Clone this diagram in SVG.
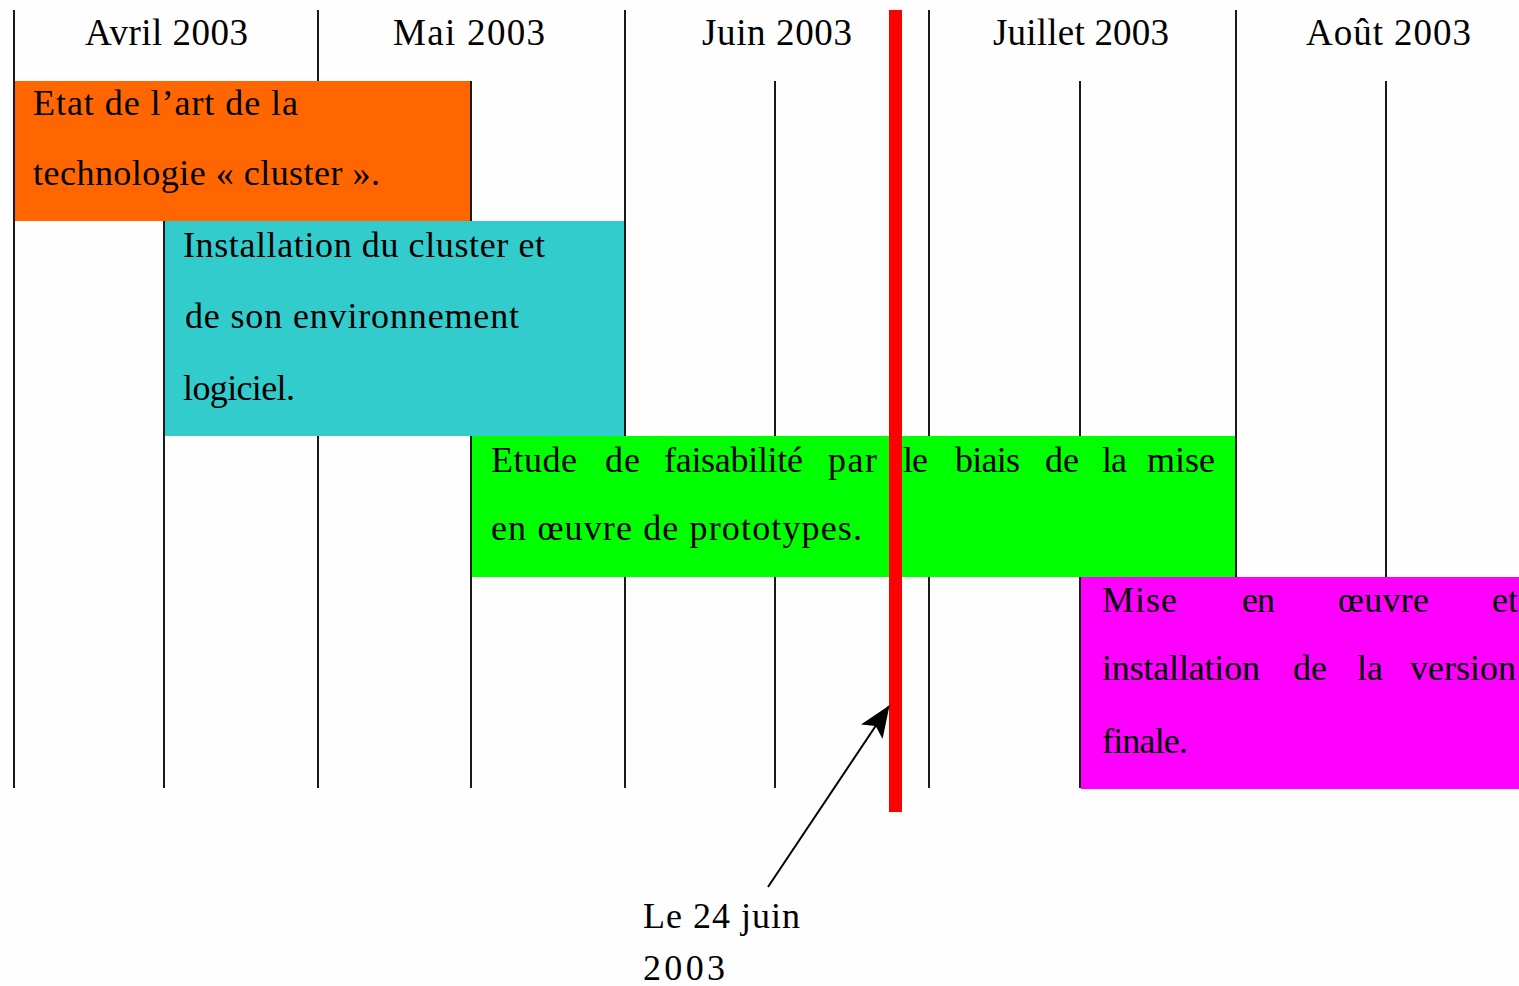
<svg xmlns="http://www.w3.org/2000/svg" width="1519" height="986" viewBox="0 0 1519 986">
  <style>
    text { font-family: "Liberation Serif", "Times New Roman", serif; font-size: 36px; fill: #000; }
    .month { font-size: 37px; }
    .grid line { stroke: #1a1a1a; stroke-width: 2; }
    .bar { stroke: none; }
  </style>
  <defs>
    <marker id="arrowhead" markerUnits="userSpaceOnUse" viewBox="0 0 32 26" refX="31" refY="13" markerWidth="32" markerHeight="26" orient="auto">
      <path d="M0,0 L32,13 L0,26 L7,13 z" fill="#000"/>
    </marker>
  </defs>

  <rect width="1519" height="986" fill="#fefefe"/>

  <!-- month boundaries and mid-month ticks -->
  <g id="grid" class="grid">
    <line x1="14" y1="10" x2="14" y2="788"/>
    <line x1="318" y1="10" x2="318" y2="788"/>
    <line x1="625" y1="10" x2="625" y2="788"/>
    <line x1="929" y1="10" x2="929" y2="788"/>
    <line x1="1236" y1="10" x2="1236" y2="788"/>
    <line x1="164" y1="81" x2="164" y2="788"/>
    <line x1="471" y1="81" x2="471" y2="788"/>
    <line x1="775" y1="81" x2="775" y2="788"/>
    <line x1="1080" y1="81" x2="1080" y2="788"/>
    <line x1="1386" y1="81" x2="1386" y2="788"/>
  </g>

  <!-- month headings -->
  <g id="months">
    <text class="month" x="85" y="45" textLength="163">Avril 2003</text>
    <text class="month" x="393" y="45" textLength="152">Mai 2003</text>
    <text class="month" x="702" y="45" textLength="150">Juin 2003</text>
    <text class="month" x="993" y="45" textLength="176">Juillet 2003</text>
    <text class="month" x="1306" y="45" textLength="165">Août 2003</text>
  </g>

  <!-- task bars -->
  <g id="task-etat-de-lart">
    <rect class="bar" x="15" y="81" width="455" height="140" fill="#ff6600"/>
    <text x="33" y="115" textLength="265">Etat de l’art de la</text>
    <text x="33" y="185" textLength="347">technologie « cluster ».</text>
  </g>

  <g id="task-installation">
    <rect class="bar" x="165" y="221" width="459" height="215" fill="#33cccc"/>
    <text x="183" y="257" textLength="362">Installation du cluster et</text>
    <text x="185" y="328" textLength="334">de son environnement</text>
    <text x="183" y="400" textLength="112">logiciel.</text>
  </g>

  <g id="task-etude-faisabilite">
    <rect class="bar" x="472" y="436" width="763" height="141" fill="#00ff00"/>
    <text y="472">
      <tspan x="491" textLength="86">Etude</tspan>
      <tspan x="605" textLength="35">de</tspan>
      <tspan x="664" textLength="139">faisabilité</tspan>
      <tspan x="828" textLength="49">par</tspan>
      <tspan x="903" textLength="25">le</tspan>
      <tspan x="955" textLength="65">biais</tspan>
      <tspan x="1045" textLength="34">de</tspan>
      <tspan x="1102" textLength="25">la</tspan>
      <tspan x="1147" textLength="68">mise</tspan>
    </text>
    <text x="491" y="540" textLength="371">en œuvre de prototypes.</text>
  </g>

  <g id="task-version-finale">
    <rect class="bar" x="1081" y="577" width="438" height="212" fill="#ff00ff"/>
    <text y="612">
      <tspan x="1102" textLength="75">Mise</tspan>
      <tspan x="1242" textLength="33">en</tspan>
      <tspan x="1338" textLength="91">œuvre</tspan>
      <tspan x="1492">et</tspan>
    </text>
    <text y="680">
      <tspan x="1102" textLength="158">installation</tspan>
      <tspan x="1293" textLength="34">de</tspan>
      <tspan x="1357" textLength="26">la</tspan>
      <tspan x="1410">version</tspan>
    </text>
    <text x="1102" y="753" textLength="86">finale.</text>
  </g>

  <!-- current date marker -->
  <g id="today-line">
    <rect x="889" y="10" width="13" height="802" fill="#ff0000"/>
  </g>

  <g id="today-label">
    <text x="643" y="928" textLength="157">Le 24 juin</text>
    <text x="643" y="980" textLength="82">2003</text>
  </g>

  <g id="connectors">
    <line x1="768" y1="887" x2="889" y2="706" stroke="#000" stroke-width="2" marker-end="url(#arrowhead)"/>
  </g>
</svg>
